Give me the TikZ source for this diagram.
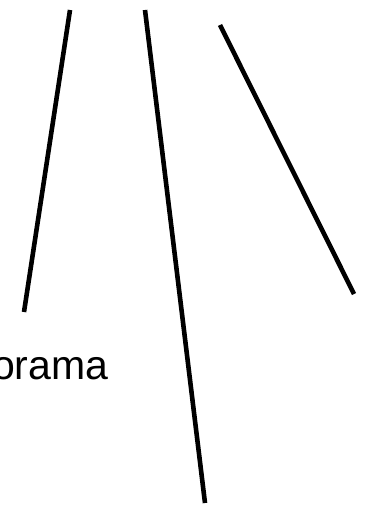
\documentclass[tikz,border=0pt]{standalone}
\usepackage{fontspec}
\setmainfont{Liberation Sans}
\begin{document}
\begin{tikzpicture}[x=1pt, y=-1pt,
    ray/.style={line width=4.6pt, black},
    lbl/.style={font=\fontsize{41}{48}\selectfont, inner sep=0pt, anchor=base west}
  ]
  \useasboundingbox (0,0) rectangle (366,505);
  \clip (0,0) rectangle (366,505);
  % free ends of the three rays
  \coordinate (leftTop)  at (70,10);
  \coordinate (leftEnd)  at (24,312);
  \coordinate (midTop)   at (145,10);
  \coordinate (midEnd)   at (205,503);
  \coordinate (rightTop) at (220,25);
  \coordinate (rightEnd) at (354,294);

  \node[lbl] (pano) at (-8,379) {orama};

  \draw[ray] (leftTop)  -- (leftEnd);
  \draw[ray] (midTop)   -- (midEnd);
  \draw[ray] (rightTop) -- (rightEnd);
\end{tikzpicture}
\end{document}
